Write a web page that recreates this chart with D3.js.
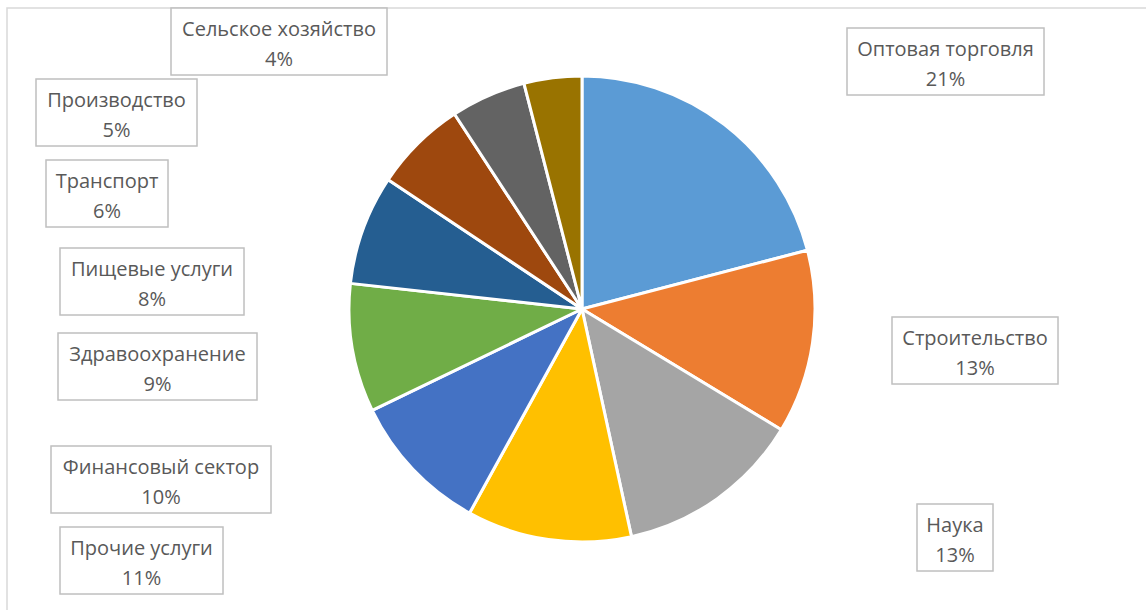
<!DOCTYPE html>
<html>
<head>
<meta charset="utf-8">
<script src="https://cdn.jsdelivr.net/npm/d3@7"></script>
<style>
    body { margin: 0; background: #ffffff; }
    text { font-family: "Open Sans", "Noto Sans", sans-serif; }
</style>
</head>
<body>
<div id="canvas"></div>
<script>
"use strict"

/* Configuration variables: drawing */
let svgWidth = 1146;
let svgHeight = 610;
let cx = 582;
let cy = 309;
let radius = 233;

/* Data - sectors, share of total */
let sectors = ["Оптовая торговля", "Строительство", "Наука", "Прочие услуги",
    "Финансовый сектор", "Здравоохранение", "Пищевые услуги", "Транспорт",
    "Производство", "Сельское хозяйство"];
let shares = [20.9, 12.7, 12.9, 11.4, 9.8, 8.9, 7.6, 6.4, 5.2, 4.0];
let colors = ["#5b9bd5", "#ed7d31", "#a5a5a5", "#ffc000", "#4472c4",
    "#70ad47", "#255e91", "#9e480e", "#636363", "#997300"];

/* Label boxes were dragged by hand in the original: left, top, width */
let labelBoxes = [
    [847, 28, 197], [892, 317, 166], [917, 504, 76], [60, 527, 163],
    [51, 446, 220], [58, 333, 199], [60, 248, 184], [46, 160, 122],
    [36, 79, 161], [171, 8, 216]
];
let boxHeight = 67;

let svg = d3.select("#canvas")
    .append("svg")
    .attr("width", svgWidth)
    .attr("height", svgHeight);

/* Chart area border */
svg.append("rect")
    .attr("x", 7)
    .attr("y", 8)
    .attr("width", svgWidth + 20)
    .attr("height", svgHeight + 20)
    .attr("fill", "none")
    .attr("stroke", "#d9d9d9")
    .attr("stroke-width", 1.5);

let dataset = sectors.map(function (name, i) {
    return { name: name, value: shares[i], color: colors[i], box: labelBoxes[i] };
});
let total = d3.sum(shares);

let pie = d3.pie()
    .sort(null)
    .value(function (d) { return d.value; });

let arc = d3.arc()
    .innerRadius(0)
    .outerRadius(radius);

let slices = svg.append("g")
    .attr("transform", "translate(" + cx + "," + cy + ")")
    .selectAll("path")
    .data(pie(dataset))
    .join("path");

slices.attr("d", arc)
    .attr("fill", function (d) { return d.data.color; })
    .attr("stroke", "#ffffff")
    .attr("stroke-width", 3)
    .attr("stroke-linejoin", "round");

/* Data labels: boxed name + percent */
let labels = svg.selectAll("g.label")
    .data(dataset)
    .join("g")
    .attr("class", "label")
    .attr("transform", function (d) {
        return "translate(" + d.box[0] + "," + d.box[1] + ")";
    });

labels.append("rect")
    .attr("width", function (d) { return d.box[2]; })
    .attr("height", boxHeight)
    .attr("fill", "#ffffff")
    .attr("stroke", "#bfbfbf")
    .attr("stroke-width", 1.5);

labels.append("text")
    .attr("x", function (d) { return d.box[2] / 2; })
    .attr("y", 20)
    .attr("text-anchor", "middle")
    .attr("dominant-baseline", "central")
    .attr("font-size", 20)
    .attr("fill", "#595959")
    .text(function (d) { return d.name; });

labels.append("text")
    .attr("x", function (d) { return d.box[2] / 2; })
    .attr("y", 50)
    .attr("text-anchor", "middle")
    .attr("dominant-baseline", "central")
    .attr("font-size", 20)
    .attr("fill", "#595959")
    .text(function (d) { return Math.round(d.value / total * 100) + "%"; });
</script>
</body>
</html>
